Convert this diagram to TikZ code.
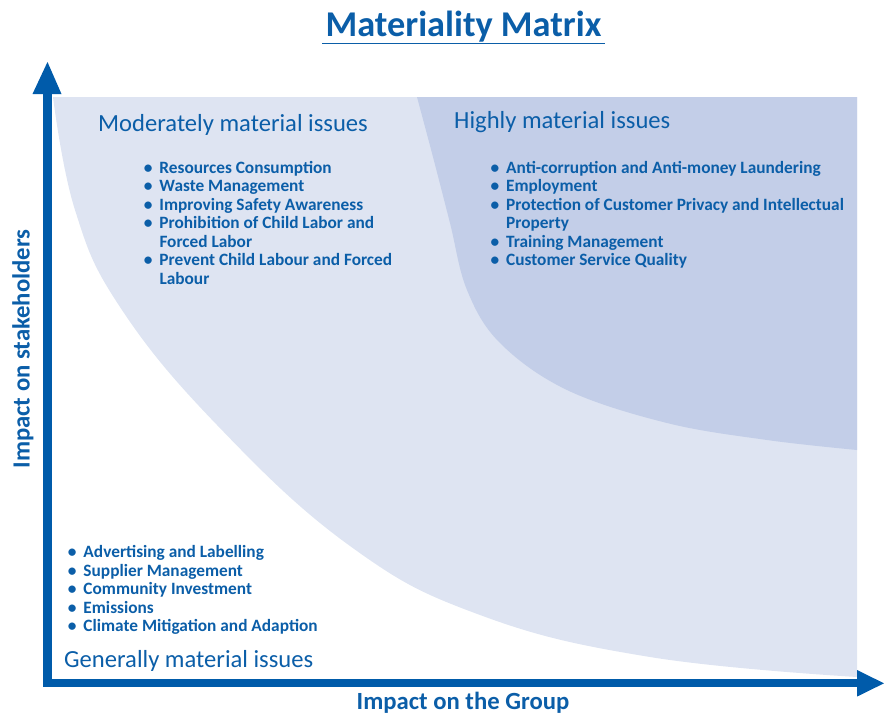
\documentclass[tikz,border=0pt]{standalone}
\usepackage{fontspec}
\setmainfont{Carlito}
\definecolor{lightreg}{RGB}{222,228,242}
\definecolor{darkreg}{RGB}{195,206,232}
\definecolor{axisblue}{RGB}{0,91,170}
\definecolor{txtblue}{RGB}{11,94,168}
\begin{document}
\begin{tikzpicture}[x=1pt,y=-1pt,
  heading/.style={anchor=base west,inner sep=0,text=txtblue,font=\fontsize{24.6}{29}\selectfont},
  itm/.style={anchor=base west,inner sep=0,text=txtblue,font=\fontsize{17.3}{18.5}\selectfont\bfseries},
  axlabel/.style={inner sep=0,text=txtblue,font=\fontsize{24.7}{29}\selectfont\bfseries},
  axisline/.style={draw=axisblue,line width=8.3pt},
  tip/.style={fill=axisblue}]
\useasboundingbox (0,0) rectangle (884,715);
% regions
\fill[lightreg] (53,97) -- (857,97) -- (857,677) -- plot[smooth,tension=0.7] coordinates {(857,677) (650,657) (480,615) (350,546) (217,425) (120,307) (75,210) (53,97)} -- cycle;
\fill[darkreg] (417,97) -- (857,97) -- (857,450) -- plot[smooth,tension=0.6] coordinates {(857,450) (767,440) (667,423) (567,390) (500,343) (467,290) (450,223) (433,157) (417,97)} -- cycle;
% title
\node[anchor=base,inner sep=0,text=txtblue,font=\fontsize{36.3}{43}\selectfont\bfseries] (title) at (463.5,36.7) {Materiality Matrix};
\draw[txtblue,line width=1.5pt] ([xshift=-3pt,yshift=-6.8pt]title.base west) -- ([xshift=3pt,yshift=-6.8pt]title.base east);
% axes
\coordinate (ytop) at (47.5,93);
\coordinate (origin) at (47.5,683.3);
\coordinate (xend) at (858,683.3);
\draw[axisline,line join=miter] (ytop) -- (origin) -- (xend);
\fill[tip] (47.5,62) -- (61.5,94) -- (32.5,94) -- cycle;
\fill[tip] (884,683.3) -- (857,670) -- (857,696.6) -- cycle;
\node[axlabel,anchor=base] (xlab) at (463,709) {Impact on the Group};
\node[axlabel,anchor=base,rotate=90] (ylab) at (29.5,349) {Impact on stakeholders};
% headings
\node[heading] (hmod) at (98,131.7) {Moderately material issues};
\node[heading] (hhigh) at (454,128.3) {Highly material issues};
\node[heading] (hgen) at (64,667.7) {Generally material issues};
% moderately list
\newcommand{\bul}{\llap{\textbullet\hspace{7pt}}}
\node[itm] (m1) at (159.3,173.3) {\bul Resources Consumption};
\node[itm] (m2) at (159.3,191.8) {\bul Waste Management};
\node[itm] (m3) at (159.3,210.3) {\bul Improving Safety Awareness};
\node[itm] (m4) at (159.3,228.8) {\bul Prohibition of Child Labor and};
\node[itm] (m5) at (159.3,247.3) {Forced Labor};
\node[itm] (m6) at (159.3,265.8) {\bul Prevent Child Labour and Forced};
\node[itm] (m7) at (159.3,284.3) {Labour};
% highly list
\node[itm] (h1) at (506,173.3) {\bul Anti-corruption and Anti-money Laundering};
\node[itm] (h2) at (506,191.8) {\bul Employment};
\node[itm] (h3) at (506,210.3) {\bul Protection of Customer Privacy and Intellectual};
\node[itm] (h4) at (506,228.8) {Property};
\node[itm] (h5) at (506,247.3) {\bul Training Management};
\node[itm] (h6) at (506,265.8) {\bul Customer Service Quality};
% generally list
\node[itm] (g1) at (83.3,557.7) {\bul Advertising and Labelling};
\node[itm] (g2) at (83.3,576.2) {\bul Supplier Management};
\node[itm] (g3) at (83.3,594.7) {\bul Community Investment};
\node[itm] (g4) at (83.3,613.2) {\bul Emissions};
\node[itm] (g5) at (83.3,631.7) {\bul Climate Mitigation and Adaption};
\end{tikzpicture}
\end{document}
